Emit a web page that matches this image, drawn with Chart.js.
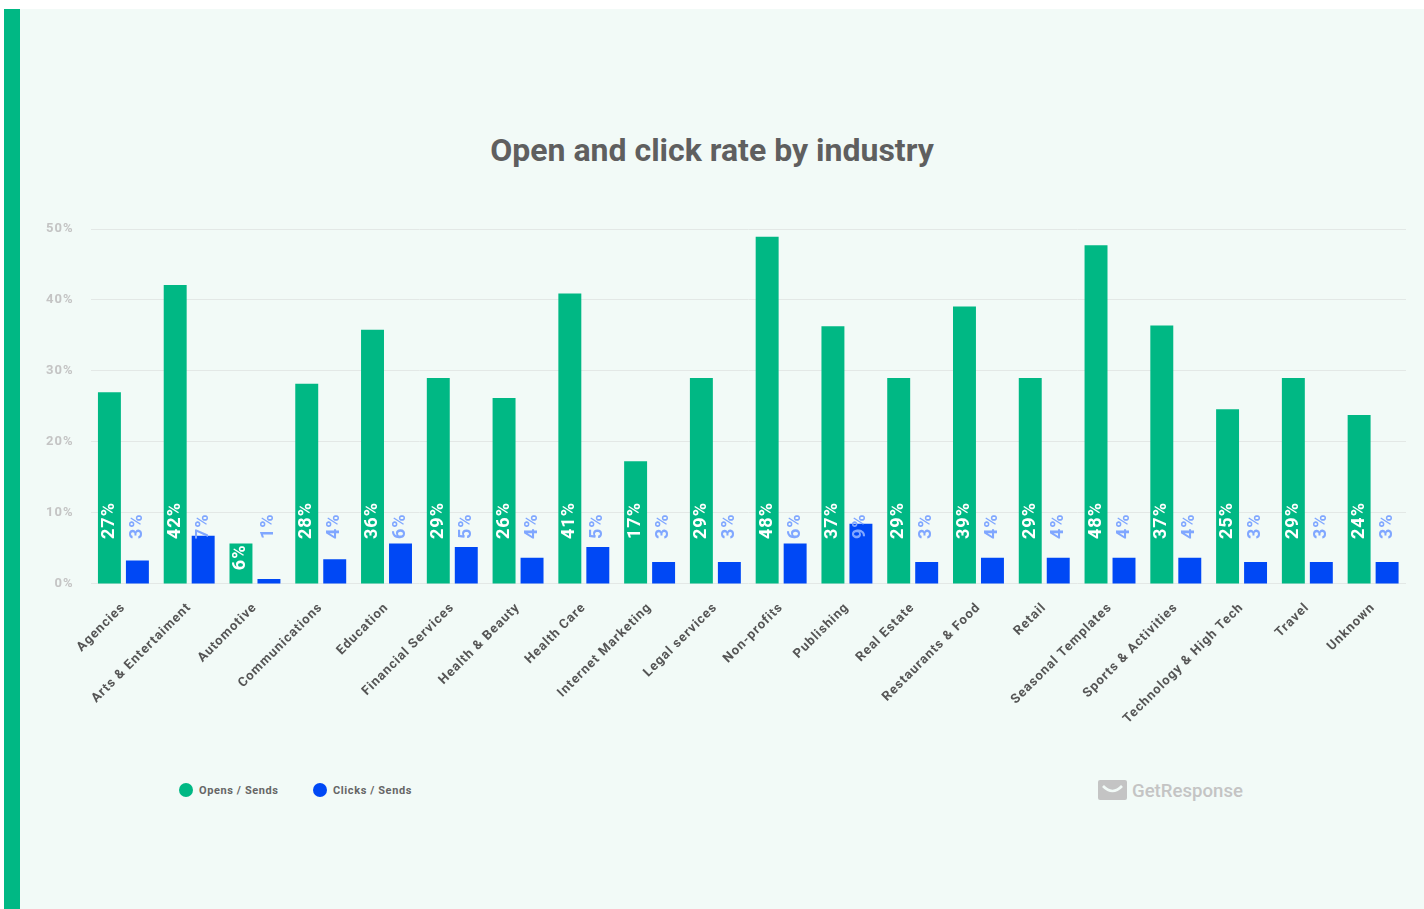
<!DOCTYPE html>
<html>
<head>
<meta charset="utf-8">
<script src="https://cdn.jsdelivr.net/npm/chart.js@4"></script>
<style>
  body { margin: 0; background: #fff; font-family: Roboto, sans-serif; }
  #stripe { position: absolute; left: 4px; top: 9px; width: 16px; height: 900px; background: #00b884; }
  #panel { position: absolute; left: 20px; top: 9px; width: 1404px; height: 900px; background: #f2faf7; }
  #title { position: absolute; left: 0; width: 1424px; top: 131px; text-align: center;
    font-size: 32px; font-weight: 700; color: #5f5f5f; }
  #wrap { position: absolute; left: 0; top: 0; width: 1424px; height: 735px; }
  #legend { position: absolute; left: 179px; top: 783px; font-size: 11px; font-weight: 700;
    color: #666; letter-spacing: 0.6px; }
  #legend span.item { position: absolute; white-space: nowrap; line-height: 16px; }
  #legend i { display: inline-block; width: 14px; height: 14px; border-radius: 50%;
    vertical-align: -3px; margin-right: 6px; }
  #logo { position: absolute; left: 1098px; top: 780px; color: #c4c4c4; font-size: 18.6px;
    font-weight: 500; white-space: nowrap; }
  #logo svg { vertical-align: -3px; margin-right: 5px; }
</style>
</head>
<body>
<div id="stripe"></div>
<div id="panel"></div>
<div id="title">Open and click rate by industry</div>
<div id="wrap"><canvas id="chart"></canvas></div>
<div id="legend"></div>
<div id="logo"><svg width="29" height="20" viewBox="0 0 29 20"><rect x="0" y="0" width="29" height="20" rx="2" fill="#c4c4c4"/><path d="M5 6 Q14.5 16 24 6" stroke="#f2faf7" stroke-width="2.6" fill="none"/></svg>GetResponse</div>
<script>
const industries = ['Agencies', 'Arts & Entertaiment', 'Automotive', 'Communications', 'Education',
  'Financial Services', 'Health & Beauty', 'Health Care', 'Internet Marketing', 'Legal services',
  'Non-profits', 'Publishing', 'Real Estate', 'Restaurants & Food', 'Retail', 'Seasonal Templates',
  'Sports & Activities', 'Technology & High Tech', 'Travel', 'Unknown'];

// bar heights
const opens = [27.0, 42.1, 5.7, 28.2, 35.8, 29.0, 26.2, 40.9, 17.3, 29.0,
  48.9, 36.3, 29.0, 39.1, 29.0, 47.7, 36.4, 24.6, 29.0, 23.8];
const clicks = [3.3, 6.8, 0.7, 3.5, 5.7, 5.2, 3.7, 5.2, 3.1, 3.1,
  5.7, 8.5, 3.1, 3.7, 3.7, 3.7, 3.7, 3.1, 3.1, 3.1];

// printed labels
const opensLabels = [27, 42, 6, 28, 36, 29, 26, 41, 17, 29, 48, 37, 29, 39, 29, 48, 37, 25, 29, 24];
const clicksLabels = [3, 7, 1, 4, 6, 5, 4, 5, 3, 3, 6, 9, 3, 4, 4, 4, 4, 3, 3, 3];

const yTicks = [0, 10, 20, 30, 40, 50];
const seriesNames = ['Opens / Sends', 'Clicks / Sends'];
const seriesColors = ['#00b884', '#0048f5'];
const labelColors = ['#ffffff', '#80a7ff'];

const spacing = {
  id: 'spacing',
  beforeUpdate(chart) { chart.ctx.letterSpacing = '1px'; },
  beforeDraw(chart) { chart.ctx.letterSpacing = '1px'; }
};

const barLabels = {
  id: 'barLabels',
  afterDatasetsDraw(chart) {
    const ctx = chart.ctx;
    const base = chart.scales.y.getPixelForValue(0);
    const printed = [opensLabels, clicksLabels];
    ctx.save();
    ctx.font = '700 18px Roboto';
    ctx.textBaseline = 'middle';
    ctx.textAlign = 'left';
    chart.data.datasets.forEach((ds, di) => {
      chart.getDatasetMeta(di).data.forEach((bar, i) => {
        const txt = printed[di][i] + '%';
        const w = ctx.measureText(txt).width;
        let start = base - 45;
        if (di === 0 && bar.y > start - w) start = bar.y + w + 1;
        ctx.save();
        ctx.translate(bar.x, start);
        ctx.rotate(-Math.PI / 2);
        ctx.fillStyle = labelColors[di];
        ctx.fillText(txt, 0, 0);
        ctx.restore();
      });
    });
    ctx.restore();
  }
};

new Chart(document.getElementById('chart'), {
  type: 'bar',
  data: {
    labels: industries,
    datasets: [
      { label: seriesNames[0], data: opens, backgroundColor: seriesColors[0] },
      { label: seriesNames[1], data: clicks, backgroundColor: seriesColors[1] }
    ]
  },
  options: {
    responsive: true,
    maintainAspectRatio: false,
    animation: false,
    categoryPercentage: 0.851,
    barPercentage: 0.82,
    layout: { padding: { top: 229, left: 29, right: 18, bottom: 0 } },
    plugins: { legend: { display: false }, tooltip: { enabled: false } },
    scales: {
      x: {
        grid: { display: false },
        border: { display: false },
        ticks: {
          autoSkip: false, minRotation: 45, maxRotation: 45, padding: 8,
          color: '#555', font: { family: 'Roboto', size: 13, weight: '700' }
        }
      },
      y: {
        min: 0, max: 50,
        afterBuildTicks(axis) { axis.ticks = yTicks.map(v => ({ value: v })); },
        grid: { color: '#e3e8e6', drawTicks: false },
        border: { display: false },
        ticks: {
          padding: 17, color: '#c4c4c4', font: { family: 'Roboto', size: 13, weight: '700' },
          callback: v => v + '%'
        }
      }
    }
  },
  plugins: [spacing, barLabels]
});

const legend = document.getElementById('legend');
const legendX = [0, 134];
seriesNames.forEach((name, i) => {
  const s = document.createElement('span');
  s.className = 'item';
  s.style.left = legendX[i] + 'px';
  s.innerHTML = '<i style="background:' + seriesColors[i] + '"></i>' + name;
  legend.appendChild(s);
});
</script>
</body>
</html>
